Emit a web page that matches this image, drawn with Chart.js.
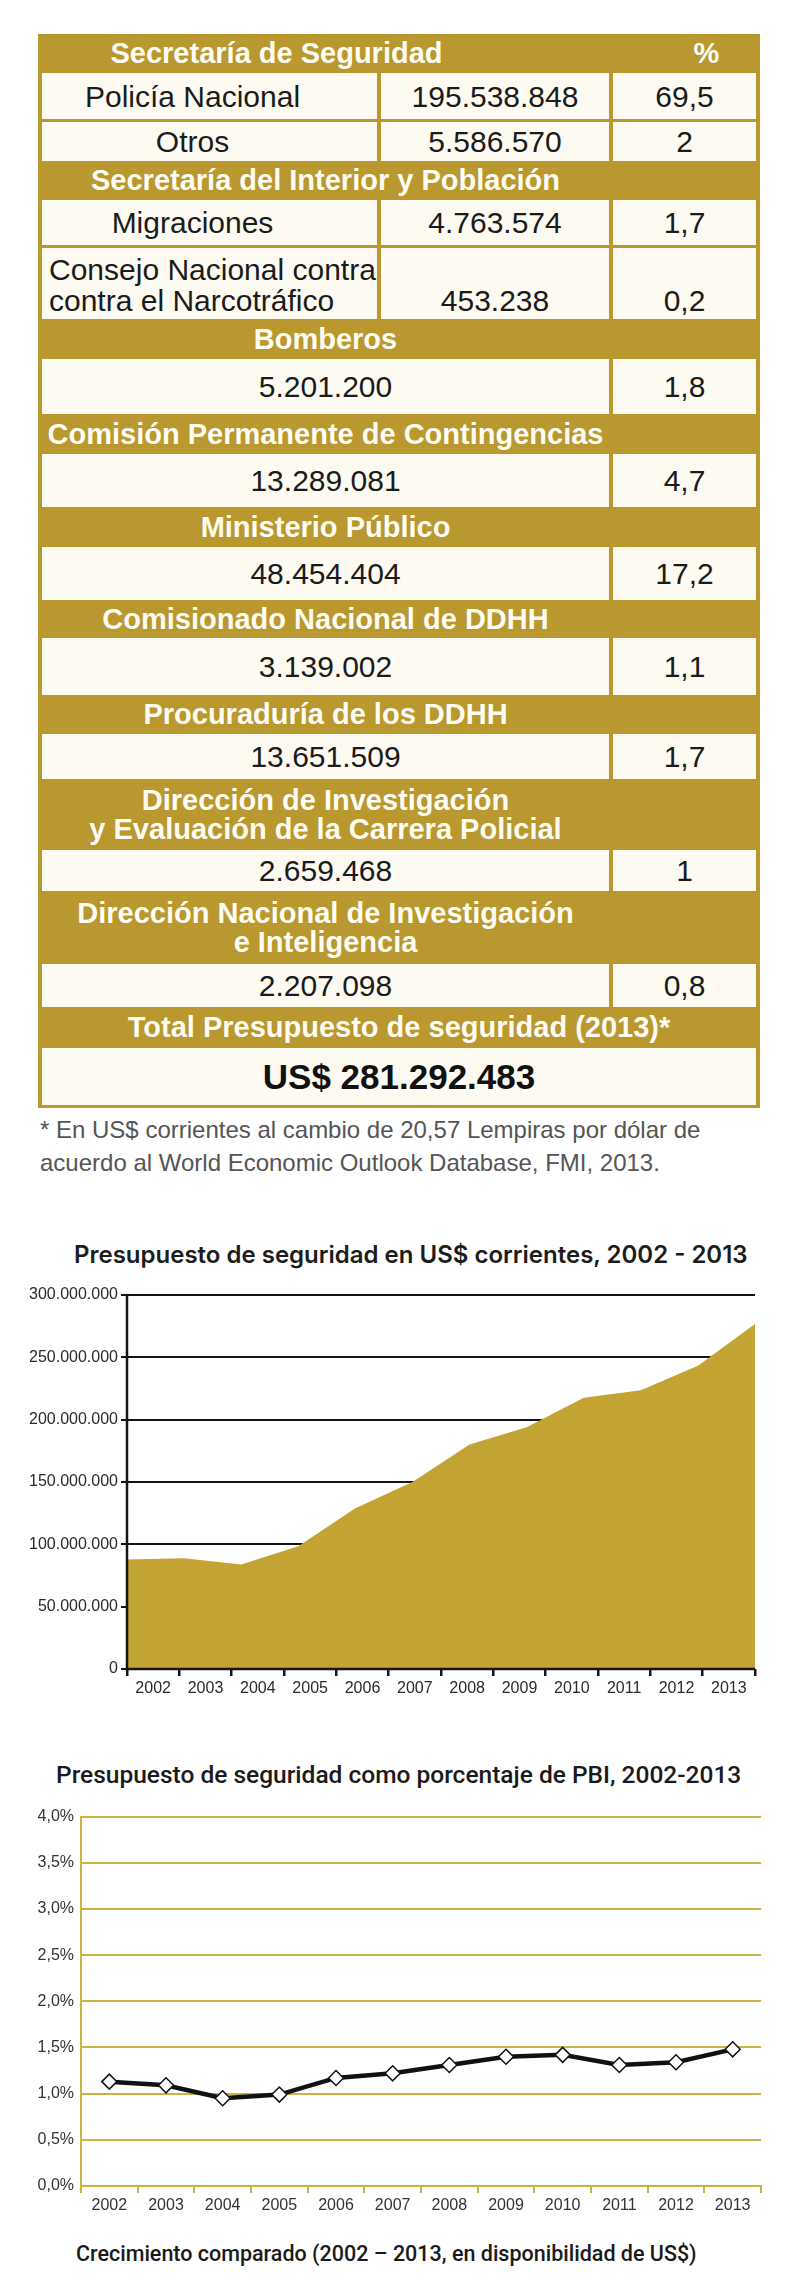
<!DOCTYPE html>
<html lang="es">
<head>
<meta charset="utf-8">
<title>Presupuesto de seguridad</title>
<script src="https://cdn.jsdelivr.net/npm/chart.js@4.4.1/dist/chart.umd.min.js"></script>
<style>
  body { margin: 0; width: 792px; height: 2292px; background: #fff; position: relative;
         font-family: "Liberation Sans", Arial, sans-serif; overflow: hidden; }
  #tabla { position: absolute; left: 38px; top: 34px; width: 722px; table-layout: fixed;
           border-collapse: separate; border-spacing: 4px 3px; background: #b8982f; }
  #tabla td { padding: 0; text-align: center; vertical-align: middle; color: #1b1b1b;
              font-size: 30px; line-height: 31px; background: #fdfaf1; white-space: nowrap; }
  #tabla tr.hd td { background: transparent; color: #fffdf3; font-weight: bold;
                    font-size: 29px; line-height: 29px; }
  #tabla td.nombre { padding-right: 34px; }
  #tabla td.largo { text-align: left; padding-left: 7px; vertical-align: bottom; padding-bottom: 3px; }
  #tabla td.abajo { vertical-align: bottom; padding-bottom: 3px; }
  #tabla td.total { font-weight: bold; font-size: 35px; color: #111; }
  .texto { position: absolute; white-space: nowrap; }
  #nota { left: 40px; top: 1113px; font-size: 24px; line-height: 33px; color: #555; }
  #titulo1 { left: 74px; top: 1241px; font-family: Inter, "Noto Sans", sans-serif; font-weight: 600;
             font-size: 24px; line-height: 28px; color: #1c1c1c; }
  #titulo2 { left: 56px; top: 1761px; font-family: Roboto, sans-serif; font-weight: 500;
             font-size: 24.5px; line-height: 28px; color: #1a1a1a; }
  #pie { left: 76px; top: 2240px; font-family: Roboto, sans-serif; font-weight: 500;
         font-size: 21.5px; line-height: 28px; color: #1a1a1a; }
  .caja { position: absolute; left: 0; width: 792px; }
</style>
</head>
<body>
<table id="tabla">
  <colgroup><col style="width:335px"><col style="width:228px"><col style="width:143px"></colgroup>
  <tbody></tbody>
</table>

<div id="nota" class="texto">* En US$ corrientes al cambio de 20,57 Lempiras por dólar de<br>acuerdo al World Economic Outlook Database, FMI, 2013.</div>

<div id="titulo1" class="texto">Presupuesto de seguridad en US$ corrientes, 2002 - 2013</div>
<div class="caja" style="top:1280px;height:430px"><canvas id="graficoMontos"></canvas></div>

<div id="titulo2" class="texto">Presupuesto de seguridad como porcentaje de PBI, 2002-2013</div>
<div class="caja" style="top:1800px;height:425px"><canvas id="graficoPbi"></canvas></div>

<div id="pie" class="texto">Crecimiento comparado (2002 – 2013, en disponibilidad de US$)</div>

<script>
// Tabla: presupuesto 2013 por institución
const secciones = [
  'Secretaría de Seguridad',
  'Secretaría del Interior y Población',
  'Bomberos',
  'Comisión Permanente de Contingencias',
  'Ministerio Público',
  'Comisionado Nacional de DDHH',
  'Procuraduría de los DDHH',
  'Dirección de Investigación\ny Evaluación de la Carrera Policial',
  'Dirección Nacional de Investigación\ne Inteligencia'
]
const seccionDeFila = [0, 0, 1, 1, 2, 3, 4, 5, 6, 7, 8]
const unidades = ['Policía Nacional', 'Otros', 'Migraciones', 'Consejo Nacional contra\ncontra el Narcotráfico',
  '', '', '', '', '', '', '']
const montos = ['195.538.848', '5.586.570', '4.763.574', '453.238', '5.201.200', '13.289.081',
  '48.454.404', '3.139.002', '13.651.509', '2.659.468', '2.207.098']
const porcentajes = ['69,5', '2', '1,7', '0,2', '1,8', '4,7', '17,2', '1,1', '1,7', '1', '0,8']
const totalTitulo = 'Total Presupuesto de seguridad (2013)*'
const totalMonto = 'US$ 281.292.483'

// Gráficos 2002 - 2013
const anios = ['2002', '2003', '2004', '2005', '2006', '2007', '2008', '2009', '2010', '2011', '2012', '2013']
const presupuestoUsd = [87.8e6, 88.8e6, 83.9e6, 98.5e6, 129e6, 150e6, 180e6, 194e6, 217.6e6, 223.5e6, 243.3e6, 276.7e6]
const porcentajePbi = [1.13, 1.09, 0.95, 0.99, 1.17, 1.22, 1.31, 1.40, 1.42, 1.31, 1.34, 1.48]

/*
 * Table
**/
const altoSeccion = [36, 36, 37, 37, 37, 35, 36, 68, 70]
const altoFila = [49, 42, 48, 71, 58, 56, 56, 60, 48, 44, 46]

const cuerpo = document.querySelector('#tabla tbody')

function agregarFila(clase, alto, celdas) {
  const tr = cuerpo.insertRow()
  if (clase) tr.className = clase
  celdas.forEach(c => {
    const td = tr.insertCell()
    td.colSpan = c.span || 1
    td.style.height = (alto - 3) + 'px'
    td.innerHTML = c.texto.replace('\n', '<br>')
    if (c.clase) td.className = c.clase
    if (c.estilo) td.style.cssText += c.estilo
  })
}

secciones.forEach((seccion, s) => {
  const primera = s === 0
  agregarFila('hd', altoSeccion[s], [
    { texto: seccion, span: 2, estilo: primera ? 'padding-right:98px' : '' },
    { texto: primera ? '%' : '', estilo: 'padding-left:44px' }
  ])
  seccionDeFila.forEach((sec, i) => {
    if (sec !== s) return
    const largo = unidades[i].includes('\n')
    if (unidades[i]) {
      agregarFila('', altoFila[i], [
        { texto: unidades[i], clase: largo ? 'largo' : 'nombre' },
        { texto: montos[i], clase: largo ? 'abajo' : '' },
        { texto: porcentajes[i], clase: largo ? 'abajo' : '' }
      ])
    } else {
      agregarFila('', altoFila[i], [
        { texto: montos[i], span: 2 },
        { texto: porcentajes[i] }
      ])
    }
  })
})
agregarFila('hd', 38, [{ texto: totalTitulo, span: 3 }])
agregarFila('', 60, [{ texto: totalMonto, span: 3, clase: 'total' }])

/*
 * Charts
**/
Chart.defaults.font.family = '"Liberation Sans", Arial, sans-serif'
Chart.defaults.font.size = 16
Chart.defaults.color = '#2a2a2a'
Chart.defaults.animation = false

const puntos = n => String(n).replace(/\B(?=(\d{3})+(?!\d))/g, '.')

// Axis lines drawn over the filled area
const ejesNegros = {
  id: 'ejesNegros',
  afterDatasetsDraw(chart) {
    const { ctx, chartArea: a } = chart
    ctx.save()
    ctx.strokeStyle = '#151515'
    ctx.lineWidth = 2.5
    ctx.beginPath()
    ctx.moveTo(a.left, a.top - 1)
    ctx.lineTo(a.left, a.bottom)
    ctx.lineTo(a.right, a.bottom)
    ctx.stroke()
    ctx.restore()
  }
}

new Chart(document.getElementById('graficoMontos'), {
  type: 'line',
  data: {
    labels: anios,
    datasets: [{
      data: presupuestoUsd,
      fill: 'origin',
      backgroundColor: '#c3a332',
      borderWidth: 0,
      pointRadius: 0,
      tension: 0
    }]
  },
  options: {
    responsive: true,
    maintainAspectRatio: false,
    layout: { padding: { top: 15, right: 37 } },
    plugins: { legend: { display: false }, tooltip: { enabled: false } },
    scales: {
      x: { display: false, offset: false },
      xl: {
        type: 'category',
        position: 'bottom',
        labels: anios,
        offset: true,
        afterFit: s => { s.height = 41 },
        grid: { offset: true, drawOnChartArea: false, tickLength: 7, color: '#151515', lineWidth: 2.5 },
        border: { display: false },
        ticks: { padding: 3, color: '#2a2a2a', maxRotation: 0 }
      },
      y: {
        min: 0,
        max: 300000000,
        afterFit: s => { s.width = 127 },
        ticks: { stepSize: 50000000, padding: 3, color: '#2a2a2a', callback: v => puntos(v) },
        grid: { color: '#151515', lineWidth: 2, tickLength: 6 },
        border: { display: false }
      }
    }
  },
  plugins: [ejesNegros]
})

const oro = '#c8b344'

new Chart(document.getElementById('graficoPbi'), {
  type: 'line',
  data: {
    labels: anios,
    datasets: [{
      data: porcentajePbi,
      borderColor: '#111',
      borderWidth: 4.5,
      tension: 0,
      pointStyle: 'rectRot',
      pointRadius: 7.5,
      pointBackgroundColor: '#fff',
      pointBorderColor: '#111',
      pointBorderWidth: 1.5
    }]
  },
  options: {
    responsive: true,
    maintainAspectRatio: false,
    layout: { padding: { top: 15, right: 31 } },
    plugins: { legend: { display: false }, tooltip: { enabled: false } },
    scales: {
      x: {
        offset: true,
        afterFit: s => { s.height = 39 },
        grid: { offset: true, drawOnChartArea: false, tickLength: 7, color: oro, lineWidth: 2 },
        border: { color: oro, width: 2 },
        ticks: { padding: 3, color: '#333', maxRotation: 0 }
      },
      y: {
        min: 0,
        max: 4,
        afterFit: s => { s.width = 81 },
        ticks: { stepSize: 0.5, padding: 7, color: '#333', callback: v => v.toFixed(1).replace('.', ',') + '%' },
        grid: { color: oro, lineWidth: 2, drawTicks: false },
        border: { color: oro, width: 2 }
      }
    }
  }
})
</script>
</body>
</html>
